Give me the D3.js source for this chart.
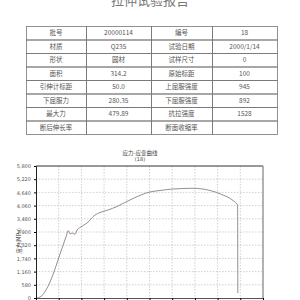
<!DOCTYPE html>
<html>
<head>
  <script src="https://d3js.org/d3.v7.min.js"></script>
  <style>
    body { margin: 0; background: #fff; }
    svg { display: block; }
    .cell { font-family: "Noto Sans CJK SC", sans-serif; font-size: 6.5px; fill: #555; }
    .axis text { font-family: "DejaVu Sans", sans-serif; font-size: 5px; fill: #555; }
  </style>
</head>
<body>
  <div id="chart"></div>
  <script>

    /* DATA */

    let reportTitle = "拉伸试验报告";
    let leftLabels = ["批号", "材质", "形状", "面积", "引伸计标距", "下屈服力", "最大力", "断后伸长率"];
    let leftValues = ["20000114", "Q235", "圆材", "314.2", "50.0", "280.35", "479.89", ""];
    let rightLabels = ["编号", "试验日期", "试样尺寸", "原始标距", "上屈服强度", "下屈服强度", "抗拉强度", "断面收缩率"];
    let rightValues = ["18", "2000/1/14", "0", "100", "945", "892", "1528", ""];

    let chartTitle = ["应力-应变曲线", "(18)"];
    let yLabel = "应力(MPa)";
    let yTicks = [0, 580, 1160, 1740, 2320, 2900, 3480, 4060, 4640, 5220, 5800];
    let xTicks = [0, 1, 2, 3, 4, 5, 6, 7, 8, 9, 10];

    let strain = [0.04, 0.18, 0.31, 0.44, 0.62, 0.79, 0.97, 1.15, 1.32, 1.42, 1.50, 1.59, 1.72, 1.81, 1.94,
                  2.25, 2.60, 2.82, 3.17, 3.57, 4.27, 5.02, 5.46, 6.04, 6.92, 7.67, 8.24, 8.68, 8.88, 8.89];
    let stress = [0, 44, 154, 352, 703, 1142, 1670, 2197, 2680, 2957, 2812, 2856, 2799, 2988, 3098,
                  3296, 3647, 3757, 3867, 4021, 4372, 4658, 4724, 4790, 4820, 4724, 4526, 4284, 4086, 220];

    let width = 300, height = 300;

    let svg = d3.select("#chart").append("svg")
      .attr("width", width)
      .attr("height", height);

    /* REPORT TITLE */

    svg.append("text")
      .attr("x", 150)
      .attr("y", 5)
      .attr("text-anchor", "middle")
      .attr("font-family", "Noto Sans CJK SC")
      .attr("font-size", 13)
      .attr("fill", "#777")
      .text(reportTitle);

    /* TABLE */

    let colEdges = [26, 86, 151, 212, 277];
    let rowY = d3.scaleBand()
      .domain(d3.range(leftLabels.length))
      .range([26, 134]);

    let rows = leftLabels.map(function(d, i) {
      return [leftLabels[i], leftValues[i], rightLabels[i], rightValues[i]];
    });

    let table = svg.append("g");

    table.selectAll("g.row")
      .data(rows)
      .enter()
      .append("g")
        .attr("class", "row")
        .each(function(row, i) {
          let g = d3.select(this);
          row.forEach(function(txt, j) {
            g.append("rect")
              .attr("x", colEdges[j] + 0.5)
              .attr("y", rowY(i) + 0.5)
              .attr("width", colEdges[j + 1] - colEdges[j])
              .attr("height", rowY.bandwidth())
              .attr("fill", "none")
              .attr("stroke", "#777")
              .attr("stroke-width", 0.8);
            g.append("text")
              .attr("class", "cell")
              .attr("x", (colEdges[j] + colEdges[j + 1]) / 2)
              .attr("y", rowY(i) + rowY.bandwidth() / 2 + 2.5)
              .attr("text-anchor", "middle")
              .text(txt);
          });
        });

    /* STRESS-STRAIN CHART */

    let margin = {top: 166, left: 36, right: 37, bottom: 2};

    let xScale = d3.scaleLinear()
      .domain([0, 10])
      .range([margin.left, width - margin.right]);

    let yScale = d3.scaleLinear()
      .domain([0, 5800])
      .range([height - margin.bottom, margin.top]);

    // grid
    svg.append("g")
      .selectAll("line")
      .data(yTicks.slice(1, -1))
      .enter()
      .append("line")
        .attr("x1", margin.left)
        .attr("x2", width - margin.right)
        .attr("y1", function(d) { return yScale(d); })
        .attr("y2", function(d) { return yScale(d); })
        .attr("stroke", "#bbb")
        .attr("stroke-width", 0.7)
        .attr("stroke-dasharray", "1.5,1.5");

    svg.append("g")
      .selectAll("line")
      .data(xTicks.slice(1, -1))
      .enter()
      .append("line")
        .attr("x1", function(d) { return xScale(d); })
        .attr("x2", function(d) { return xScale(d); })
        .attr("y1", margin.top)
        .attr("y2", height - margin.bottom)
        .attr("stroke", "#bbb")
        .attr("stroke-width", 0.7)
        .attr("stroke-dasharray", "1.5,1.5");

    // axes
    let yAxis = svg.append("g")
      .attr("class", "axis")
      .attr("transform", `translate(${margin.left},0)`)
      .call(d3.axisLeft(yScale).tickValues(yTicks).tickSize(2).tickFormat(d3.format(",")));

    let xAxis = svg.append("g")
      .attr("class", "axis")
      .attr("transform", `translate(0,${height - margin.bottom})`)
      .call(d3.axisBottom(xScale).tickValues(xTicks).tickSize(2));

    yAxis.select(".domain").attr("stroke", "#222");
    xAxis.select(".domain").attr("stroke", "#555");

    // frame top and right
    svg.append("line")
      .attr("x1", margin.left).attr("x2", width - margin.right)
      .attr("y1", margin.top).attr("y2", margin.top)
      .attr("stroke", "#333").attr("stroke-width", 1);

    svg.append("line")
      .attr("x1", width - margin.right).attr("x2", width - margin.right)
      .attr("y1", margin.top).attr("y2", height - margin.bottom)
      .attr("stroke", "#999").attr("stroke-width", 1.5);

    // curve
    let points = strain.map(function(d, i) { return [d, stress[i]]; });

    svg.append("path")
      .datum(points)
      .attr("fill", "none")
      .attr("stroke", "#807070")
      .attr("stroke-width", 0.8)
      .attr("d", d3.line()
        .x(function(d) { return xScale(d[0]); })
        .y(function(d) { return yScale(d[1]); })
        .curve(d3.curveMonotoneX));

    // titles
    svg.append("text")
      .attr("x", 140)
      .attr("y", 155)
      .attr("text-anchor", "middle")
      .attr("font-family", "Noto Sans CJK SC")
      .attr("font-size", 5.5)
      .attr("fill", "#444")
      .text(chartTitle[0]);

    svg.append("text")
      .attr("x", 140)
      .attr("y", 161)
      .attr("text-anchor", "middle")
      .attr("font-family", "DejaVu Sans")
      .attr("font-size", 5)
      .attr("fill", "#444")
      .text(chartTitle[1]);

    svg.append("text")
      .attr("transform", "rotate(-90)")
      .attr("x", -241)
      .attr("y", 21)
      .attr("text-anchor", "middle")
      .attr("font-family", "Noto Sans CJK SC")
      .attr("font-size", 5.5)
      .attr("fill", "#444")
      .text(yLabel);

  </script>
</body>
</html>
